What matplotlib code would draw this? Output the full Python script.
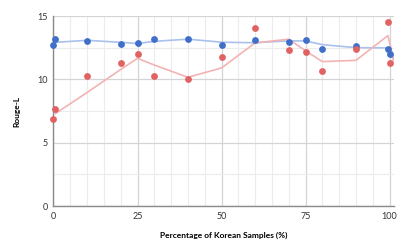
import matplotlib.pyplot as plt
from matplotlib.ticker import MultipleLocator

# ---------------------------------------------------------------------------
# Data
# ---------------------------------------------------------------------------
blue_x = [0, 0.6, 10, 20, 25, 30, 40, 50, 60, 70, 75, 80, 90, 99.5, 100]
blue_y = [12.68, 13.15, 13.02, 12.81, 12.84, 13.15, 13.18, 12.68, 13.10,
          12.97, 13.08, 12.39, 12.60, 12.39, 11.97]

red_x = [0, 0.6, 10, 20, 25, 30, 40, 50, 60, 70, 75, 80, 90, 99.5, 100]
red_y = [6.89, 7.68, 10.24, 11.31, 12.00, 10.26, 10.05, 11.74, 14.02,
         12.31, 12.18, 10.63, 12.37, 14.52, 11.29]

# trend lines (2-point moving average as drawn in the chart)
trend_x = [0.6, 10, 20, 25, 30, 40, 50, 60, 70, 75, 80, 90, 99.5, 100, 101.2]
blue_trend = [12.92, 13.08, 12.92, 12.83, 13.00, 13.17, 12.93, 12.89, 13.04,
              13.03, 12.74, 12.50, 12.48, 12.18, 11.50]
red_trend = [7.30, 8.96, 10.78, 11.66, 11.13, 10.16, 10.90, 12.88, 13.17,
             12.25, 11.40, 11.50, 13.45, 12.90, 11.50]

x_ticks = [0, 25, 50, 75, 100]
y_ticks = [0, 5, 10, 15]

BLUE = "#3f6fc9"
RED = "#e06262"
BLUE_LINE = "#a9c1ec"
RED_LINE = "#f3b3b3"

plt.rcParams["font.family"] = ["Lato", "DejaVu Sans"]

fig = plt.figure(figsize=(4.07, 2.52), dpi=100)
ax = fig.add_axes([0.1314, 0.1825, 0.8366, 0.754])

ax.plot(trend_x, blue_trend, color=BLUE_LINE, lw=1.2, zorder=2)
ax.plot(trend_x, red_trend, color=RED_LINE, lw=1.2, zorder=2)
ax.scatter(blue_x, blue_y, s=24, color=BLUE, zorder=3, clip_on=False, linewidths=0)
ax.scatter(red_x, red_y, s=24, color=RED, zorder=3, clip_on=False, linewidths=0)

ax.set_xlim(0, 101.3)
ax.set_ylim(0, 15)
ax.set_xticks(x_ticks)
ax.set_yticks(y_ticks)
ax.xaxis.set_minor_locator(MultipleLocator(5))
ax.yaxis.set_minor_locator(MultipleLocator(2.5))
ax.tick_params(which="both", length=0, labelsize=6.5, colors="#333333", pad=4)

ax.grid(True, which="major", color="#d4d4d4", lw=0.9)
ax.grid(True, which="minor", color="#ececec", lw=0.8)
ax.set_axisbelow(True)

for side in ["top", "right"]:
    ax.spines[side].set_visible(False)
ax.spines["left"].set_color("#8a8a8a")
ax.spines["bottom"].set_color("#8a8a8a")
ax.spines["left"].set_linewidth(1.0)
ax.spines["bottom"].set_linewidth(1.0)

ax.set_xlabel("Percentage of Korean Samples (%)", fontsize=6, fontweight="bold", labelpad=8)
ax.set_ylabel("Rouge-L", fontsize=6, fontweight="bold", labelpad=12)

fig.savefig("out.png", dpi=100)
